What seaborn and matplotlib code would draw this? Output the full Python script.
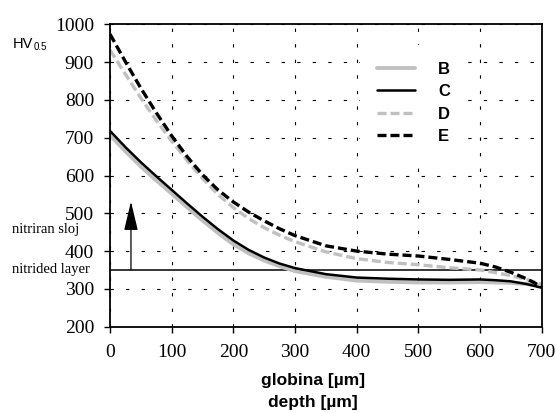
import matplotlib
matplotlib.use("Agg")
import matplotlib.pyplot as plt
import seaborn as sns

# Data (depth in um, hardness HV0.5)
depth = [0, 25, 50, 75, 100, 125, 150, 175, 200, 225, 250, 275, 300,
         350, 400, 450, 500, 550, 600, 625, 650, 675, 700]
hv_b = [707, 664, 624, 587, 552, 516, 481, 448, 418, 394, 375, 360, 347,
        332, 322, 319, 317, 317, 318, 317, 316, 313, 308]
hv_c = [718, 675, 635, 598, 562, 526, 491, 458, 428, 403, 383, 367, 355,
        339, 330, 327, 325, 324, 325, 323, 320, 313, 303]
hv_d = [932, 868, 805, 746, 691, 640, 592, 550, 515, 486, 462, 442, 425,
        398, 380, 370, 364, 356, 350, 343, 335, 325, 313]
hv_e = [974, 901, 831, 766, 705, 650, 602, 562, 530, 503, 480, 459, 441,
        414, 400, 392, 387, 378, 368, 358, 344, 327, 306]

series_names = ["B", "C", "D", "E"]
series_values = [hv_b, hv_c, hv_d, hv_e]

layer_limit = 350
arrow_x = 34
arrow_top = 531

x_ticks = [0, 100, 200, 300, 400, 500, 600, 700]
y_ticks = [200, 300, 400, 500, 600, 700, 800, 900, 1000]

gray = "#c0c0c0"
styles = {
    "B": dict(color=gray, lw=2.8, linestyle="-"),
    "C": dict(color="black", lw=1.8, linestyle="-"),
    "D": dict(color=gray, lw=2.4, linestyle=(0, (2.7, 1.2))),
    "E": dict(color="black", lw=2.4, linestyle=(0, (2.7, 1.2))),
}

sns.set_theme(style="ticks")
plt.rcParams["font.family"] = ["Liberation Serif", "DejaVu Serif"]
plt.rcParams["text.color"] = "black"
plt.rcParams["xtick.color"] = "black"
plt.rcParams["ytick.color"] = "black"

fig = plt.figure(figsize=(5.56, 4.13), dpi=100)
ax = fig.add_axes([110 / 556, 1 - 326.7 / 413, 431.7 / 556, 302.4 / 413])

for name, vals in zip(series_names, series_values):
    sns.lineplot(x=depth, y=vals, ax=ax, label=name, **styles[name])

# nitrided layer boundary and arrow
ax.axhline(layer_limit, color="black", lw=1.1, zorder=1)
ax.annotate("", xy=(arrow_x, arrow_top), xytext=(arrow_x, layer_limit),
            arrowprops=dict(arrowstyle="-|>,head_length=1.8,head_width=0.43",
                            mutation_scale=10, color="black", lw=0.9,
                            shrinkA=0, shrinkB=0))

ax.set_xlim(0, 700)
ax.set_ylim(200, 1000)
ax.set_xticks(x_ticks)
ax.set_yticks(y_ticks)
ax.tick_params(axis="both", direction="out", length=4.5, width=1, color="black",
               labelsize=14, labelcolor="black")
ax.tick_params(axis="y", pad=7)
ax.tick_params(axis="x", pad=8)
ax.set_xlabel("")
ax.set_ylabel("")

for sp in ax.spines.values():
    sp.set_visible(True)
    sp.set_color("black")
    sp.set_linewidth(1.3)

ax.grid(True, color="black", lw=0.8, linestyle=(0, (3, 11)))
ax.set_axisbelow(True)

leg = ax.legend(loc="upper left", bbox_to_anchor=((360 - 110) / 431.7, 1 - (45 - 24.3) / 302.4),
                frameon=True, fancybox=False, framealpha=1, facecolor="white",
                edgecolor="none", borderaxespad=0, borderpad=1.0,
                handlelength=2.3, handletextpad=1.4, labelspacing=0.45,
                prop={"family": "Liberation Sans", "weight": "bold", "size": 12})
for t in leg.get_texts():
    t.set_color("black")

# labels
fig.text(313 / 556, 1 - 381 / 413, "globina [µm]", ha="center", va="center",
         family="Liberation Sans", weight="bold", fontsize=12.5)
fig.text(313 / 556, 1 - 403 / 413, "depth [µm]", ha="center", va="center",
         family="Liberation Sans", weight="bold", fontsize=12.5)
fig.text(13 / 556, 1 - 44 / 413, "HV", ha="left", va="center",
         family="Liberation Sans", fontsize=10.5)
fig.text(34 / 556, 1 - 47 / 413, "0.5", ha="left", va="center",
         family="Liberation Sans", fontsize=7)
fig.text(12 / 556, 1 - 229 / 413, "nitriran sloj", ha="left", va="center",
         fontsize=10.5)
fig.text(12 / 556, 1 - 270 / 413, "nitrided layer", ha="left", va="center",
         fontsize=10.5)

fig.savefig("out.png", dpi=100, facecolor="white")
